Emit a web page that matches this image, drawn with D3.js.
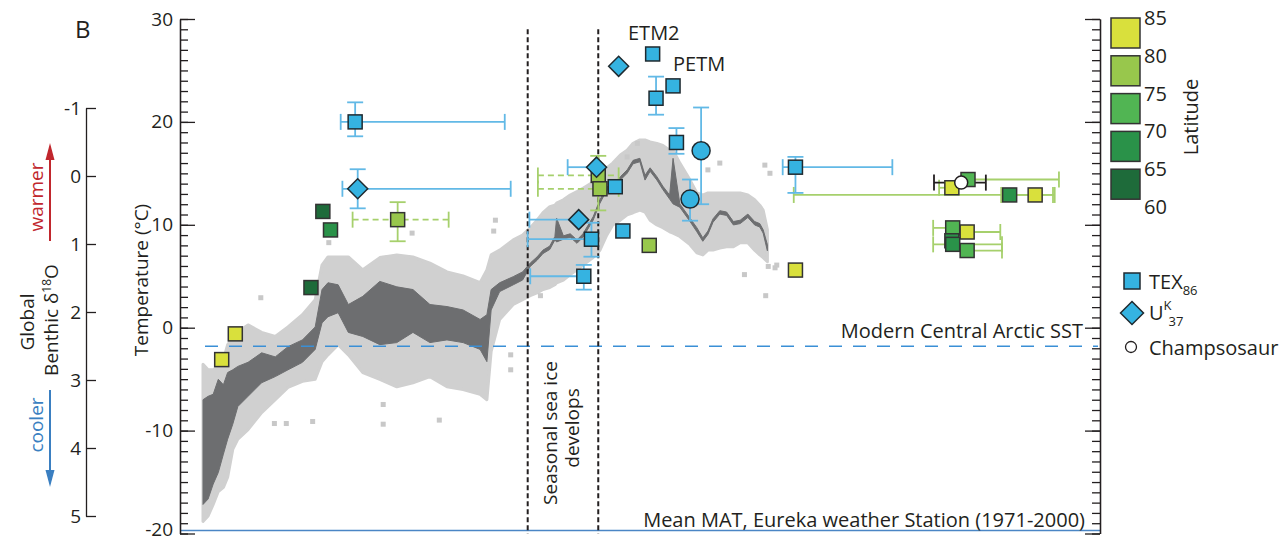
<!DOCTYPE html>
<html>
<head>
<meta charset="utf-8">
<script src="https://cdn.jsdelivr.net/npm/d3@7"></script>
<style>
  body { margin: 0; background: #fff; }
  svg text { font-family: "Open Sans", sans-serif; fill: #231f20; }
</style>
</head>
<body>
<svg id="chart" width="1280" height="541"></svg>
<script>
// benthic d18O compilation (age in Ma, d18O in permil)
const curveAge = [0.0,0.6,1.2,1.8,2.4,2.9,3.5,4.1,5.3,6.9,8.5,10.0,11.7,13.2,14.0,14.7,15.9,17.1,18.8,20.8,22.8,24.7,26.7,28.7,30.6,32.6,33.4,33.9,34.9,36.5,37.6,38.5,39.3,40.0,40.8,41.4,41.6,42.4,43.2,44.0,44.7,45.9,46.7,47.5,48.2,49.1,49.9,50.6,51.4,52.0,52.6,53.4,54.1,54.9,55.3,56.1,57.3,58.1,58.8,59.4,60.0,60.8,61.6,62.4,63.2,64.1,64.9,65.5,65.9,66.4];
const darkTop = [3.29,3.24,3.21,2.99,3.07,2.89,2.85,2.80,2.74,2.60,2.66,2.51,2.41,2.22,1.67,1.57,1.60,1.89,1.77,1.55,1.63,1.67,1.89,1.92,1.97,2.11,2.04,1.67,1.57,1.48,1.41,1.28,1.19,1.09,1.03,0.89,0.62,0.88,0.85,0.94,0.85,0.60,0.35,0.16,0.12,0.01,-0.09,-0.23,-0.26,-0.01,-0.12,0.01,0.15,0.28,-0.26,0.41,0.62,0.76,0.91,0.81,0.63,0.51,0.53,0.67,0.65,0.56,0.67,0.70,0.79,1.01];
const darkBot = [4.83,4.75,4.53,4.36,4.09,3.87,3.65,3.39,3.24,3.04,2.95,2.85,2.74,2.55,2.16,2.07,2.01,2.30,2.36,2.48,2.45,2.30,2.45,2.41,2.45,2.55,2.73,1.97,1.70,1.60,1.53,1.33,1.24,1.14,1.08,0.94,0.97,0.93,0.90,0.99,0.90,0.65,0.40,0.21,0.17,0.06,-0.04,-0.18,-0.21,0.06,-0.07,0.06,0.20,0.34,0.41,0.46,0.67,0.82,0.96,0.86,0.68,0.56,0.58,0.72,0.70,0.61,0.72,0.75,0.84,1.10];
const cloudTop = [2.77,2.85,2.85,2.80,2.70,2.48,2.38,2.29,2.19,2.30,2.36,2.22,2.04,1.82,1.31,1.19,1.19,1.19,1.38,1.20,1.16,1.19,1.28,1.41,1.47,1.57,1.38,1.16,1.09,0.94,0.87,0.76,0.65,0.54,0.45,0.43,0.40,0.35,0.28,0.23,0.18,0.09,-0.01,-0.12,-0.19,-0.31,-0.38,-0.48,-0.53,-0.53,-0.50,-0.48,-0.45,-0.38,-0.38,-0.19,0.06,0.25,0.28,0.25,0.25,0.25,0.25,0.25,0.25,0.28,0.35,0.43,0.50,0.79];
const cloudBot = [5.08,5.00,4.83,4.64,4.58,4.43,4.02,3.87,3.73,3.48,3.29,3.11,3.02,2.99,2.73,2.63,2.48,2.63,2.89,2.99,3.10,3.04,2.95,3.10,3.14,3.21,3.29,2.58,2.11,1.89,1.82,1.76,1.72,1.67,1.64,1.60,1.57,1.53,1.45,1.38,1.31,1.20,1.09,0.87,0.72,0.65,0.57,0.54,0.50,0.53,0.65,0.72,0.76,0.82,0.84,0.89,1.01,1.13,1.16,1.09,1.09,1.06,1.04,1.04,0.98,0.98,1.09,1.16,1.20,1.26];
const strayAge = [34.4,34.2,24.6,14.8,6.8,8.4,9.8,12.9,21.2,21.2,27.8,36.2,36.2,39.7,51.1,49.9,59.4,60.8,63.7,66.2,66.1,66.7,66.5,67.3,67.5];
const strayD18O = [0.65,0.81,0.84,0.98,1.79,3.64,3.64,3.61,3.36,3.65,3.59,2.63,2.85,1.76,-0.48,-0.28,-0.09,-0.19,1.45,1.76,-0.16,-0.04,1.33,1.35,1.31];

// proxy temperatures: [age, temp, ageLo, ageHi, tempLo, tempHi]
const tex86 = [
  [17.9, 20.0, 16.2, 35.5, 18.6, 21.9],
  [52.9, 26.6],
  [55.3, 23.5],
  [53.3, 22.3, null, null, 20.7, 24.4],
  [55.7, 18.0, null, null, 16.9, 19.4],
  [48.5, 13.7],
  [49.4, 9.4],
  [45.7, 8.6, 38.2, null, 6.9, 10.2],
  [44.8, 5.0, 38.5, null, 3.7, 6.1],
  [69.7, 15.6, 68.2, 81.1, 13.1, 16.6]
];
const uk37 = [
  [18.2, 13.5, 16.4, 36.2, 11.6, 15.4],
  [48.9, 25.4],
  [46.3, 15.6, 42.9, null],
  [44.2, 10.5, 38.4, null]
];
const otherTex = [
  [58.6, 17.2, null, null, 12.0, 21.4],
  [57.3, 12.5, null, null, 10.4, 14.4]
];
// [age, temp, latitude, ageLo, ageHi, tempLo, tempHi, dashed]
const latSites = [
  [14.1, 11.3, 62],
  [12.7, 3.9, 62],
  [15.0, 9.5, 67],
  [22.9, 10.5, 77, 17.6, 28.9, 8.4, 12.2, true],
  [3.8, -0.6, 82],
  [2.2, -3.1, 82],
  [46.5, 14.8, 77, 39.4, 48.9, 11.4, 16.7, true],
  [46.7, 13.5, 77, 39.4, 48.9, null, null, true],
  [52.5, 8.0, 77],
  [69.7, 5.6, 82],
  [94.9, 12.9, 67, 69.5, 100.0],
  [97.9, 12.9, 82, 93.9, 100.2],
  [90.0, 14.4, 72, null, 100.7],
  [88.1, 13.6, 82, 86.6, null],
  [88.2, 9.7, 72, 85.9, null],
  [89.9, 9.3, 82, null, 93.8],
  [88.1, 8.45, 67],
  [88.2, 8.1, 67, 85.9, 94.0],
  [89.9, 7.5, 72, null, 94.0]
];
const champsosaur = [[89.2, 14.1, 86.0, 92.1]];

const latBreaks = [65, 70, 75, 80];
const latColors = ["#1e6b3a", "#2a9249", "#51b553", "#98c74c", "#d9e03c"];
const latLabels = [85, 80, 75, 70, 65, 60];
const tempTicks = [-20, -10, 0, 10, 20, 30];
const d18OTicks = [-1, 0, 1, 2, 3, 4, 5];
const arcticSST = -1.8;
const eurekaMAT = -19.7;
const seaIceAges = [38.2, 46.5];

const svg = d3.select("#chart");
const x = d3.scaleLinear().domain([0, 105]).range([203, 1095.5]);
const yT = d3.scaleLinear().domain([-20, 30]).range([533.5, 19]);
const yD = d3.scaleLinear().domain([-1, 5]).range([108, 516]);
const latColor = d3.scaleThreshold().domain(latBreaks).range(latColors);

const ink = "#231f20";
const errBlue = "#62b9e6";
const errGreen = "#a6d06c";
const texBlue = "#35b3e1";

// ---- gray benthic cloud + running band
const band = (lo, hi) =>
  d3.area()
    .x((d, i) => x(curveAge[i]))
    .y0((d, i) => yD(hi[i]))
    .y1((d, i) => yD(lo[i]));

svg.append("path").datum(curveAge)
  .attr("d", band(cloudTop, cloudBot))
  .attr("fill", "#d0d0d0")
  .attr("stroke", "#d0d0d0")
  .attr("stroke-width", 3)
  .attr("stroke-linejoin", "round");

svg.append("g").selectAll("rect")
  .data(strayAge)
  .join("rect")
  .attr("x", (d) => x(d) - 2.5)
  .attr("y", (d, i) => yD(strayD18O[i]) - 2.5)
  .attr("width", 5).attr("height", 5)
  .attr("fill", "#c8c8c8");

svg.append("path").datum(curveAge)
  .attr("d", band(darkTop, darkBot))
  .attr("fill", "#6d6e70")
  .attr("stroke", "#6d6e70")
  .attr("stroke-width", 1);

// ---- reference lines
svg.append("line")
  .attr("x1", 205).attr("x2", 1098)
  .attr("y1", yT(arcticSST)).attr("y2", yT(arcticSST))
  .attr("stroke", "#3a8fd6").attr("stroke-width", 1.5)
  .attr("stroke-dasharray", "13,11");

svg.append("line")
  .attr("x1", 181).attr("x2", 1100)
  .attr("y1", yT(eurekaMAT)).attr("y2", yT(eurekaMAT))
  .attr("stroke", "#4a86c5").attr("stroke-width", 1.5);

svg.append("g").selectAll("line")
  .data(seaIceAges)
  .join("line")
  .attr("x1", (d) => x(d)).attr("x2", (d) => x(d))
  .attr("y1", yT(29)).attr("y2", yT(-20))
  .attr("stroke", ink).attr("stroke-width", 2)
  .attr("stroke-dasharray", "5,3");

// ---- axes
function styleAxis(g) {
  g.attr("font-family", null).attr("font-size", null);
  g.selectAll("path, line").attr("stroke", ink).attr("stroke-width", 1.3);
  g.selectAll("text").attr("fill", ink).style("font-size", "19px");
}

svg.append("g").attr("transform", "translate(180,0)")
  .call(d3.axisLeft(yT).tickValues(d3.range(-20, 31, 1)).tickSizeInner(-8).tickSizeOuter(0).tickFormat(""))
  .call(styleAxis);
svg.append("g").attr("transform", "translate(180,0)")
  .call(d3.axisLeft(yT).tickValues(tempTicks).tickSizeInner(-15).tickSizeOuter(0).tickPadding(7).tickFormat((d) => String(d)))
  .call(styleAxis)
  .call((g) => g.selectAll("text").filter((d) => d === -20).attr("dy", "0.1em"));

svg.append("g").attr("transform", "translate(1100,0)")
  .call(d3.axisRight(yT).tickValues(d3.range(-20, 31, 1)).tickSizeInner(-8).tickSizeOuter(0).tickFormat(""))
  .call(styleAxis);
svg.append("g").attr("transform", "translate(1100,0)")
  .call(d3.axisRight(yT).tickValues(tempTicks).tickSizeInner(-15).tickSizeOuter(0).tickFormat(""))
  .call(styleAxis);

svg.append("g").attr("transform", "translate(86,0)")
  .call(d3.axisLeft(yD).tickValues(d18OTicks).tickSizeInner(-10).tickSizeOuter(0).tickPadding(5).tickFormat((d) => String(d)))
  .call(styleAxis);

// ---- error bars
const cap = 8;
function errorBars(data, color, getDash) {
  const g = svg.append("g").attr("stroke", color).attr("stroke-width", 1.8).attr("fill", "none");
  data.forEach((d) => {
    const [age, t, aLo, aHi, tLo, tHi] = d;
    const dash = getDash ? getDash(d) : null;
    const cx = x(age), cy = yT(t);
    if (aLo != null || aHi != null) {
      const x1 = x(aLo != null ? aLo : age), x2 = x(aHi != null ? aHi : age);
      g.append("line").attr("x1", x1).attr("x2", x2).attr("y1", cy).attr("y2", cy).attr("stroke-dasharray", dash);
      [aLo, aHi].forEach((a) => {
        if (a == null) return;
        g.append("line").attr("x1", x(a)).attr("x2", x(a)).attr("y1", cy - cap).attr("y2", cy + cap);
      });
    }
    if (tLo != null || tHi != null) {
      g.append("line").attr("x1", cx).attr("x2", cx).attr("y1", yT(tLo)).attr("y2", yT(tHi));
      [tLo, tHi].forEach((v) => {
        g.append("line").attr("x1", cx - cap).attr("x2", cx + cap).attr("y1", yT(v)).attr("y2", yT(v));
      });
    }
  });
}

errorBars(latSites.map((d) => [d[0], d[1], d[3], d[4], d[5], d[6], d[7]]), errGreen, (d) => (d[6] ? "6,4" : null));
errorBars(tex86, errBlue);
errorBars(uk37, errBlue);
errorBars(otherTex, errBlue);
errorBars(champsosaur.map((d) => [d[0], d[1], d[2], d[3]]), ink);

// ---- markers
const sq = 14;
svg.append("g").selectAll("rect")
  .data(latSites)
  .join("rect")
  .attr("x", (d) => x(d[0]) - sq / 2)
  .attr("y", (d) => yT(d[1]) - sq / 2)
  .attr("width", sq).attr("height", sq)
  .attr("fill", (d) => latColor(d[2]))
  .attr("stroke", "#333").attr("stroke-width", 1.5);

svg.append("g").selectAll("rect")
  .data(tex86)
  .join("rect")
  .attr("x", (d) => x(d[0]) - sq / 2)
  .attr("y", (d) => yT(d[1]) - sq / 2)
  .attr("width", sq).attr("height", sq)
  .attr("fill", texBlue)
  .attr("stroke", "#1f2a30").attr("stroke-width", 1.5);

const diamond = (cx, cy, r) => `M${cx},${cy - r}L${cx + r},${cy}L${cx},${cy + r}L${cx - r},${cy}Z`;
svg.append("g").selectAll("path")
  .data(uk37)
  .join("path")
  .attr("d", (d) => diamond(x(d[0]), yT(d[1]), 10))
  .attr("fill", texBlue)
  .attr("stroke", "#1f2a30").attr("stroke-width", 1.5);

svg.append("g").selectAll("circle")
  .data(otherTex)
  .join("circle")
  .attr("cx", (d) => x(d[0])).attr("cy", (d) => yT(d[1]))
  .attr("r", 9)
  .attr("fill", texBlue)
  .attr("stroke", "#1f2a30").attr("stroke-width", 1.5);

svg.append("g").selectAll("circle")
  .data(champsosaur)
  .join("circle")
  .attr("cx", (d) => x(d[0])).attr("cy", (d) => yT(d[1]))
  .attr("r", 6.5)
  .attr("fill", "#fff")
  .attr("stroke", ink).attr("stroke-width", 1.5);

// ---- text labels
const txt = (x0, y0, s, size, opts = {}) => {
  const t = svg.append("text").attr("x", x0).attr("y", y0).style("font-size", size + "px").text(s);
  if (opts.anchor) t.attr("text-anchor", opts.anchor);
  if (opts.color) t.style("fill", opts.color);
  return t;
};
const vtxt = (cx, cy, s, size, color) => {
  const t = svg.append("text")
    .attr("transform", `translate(${cx},${cy}) rotate(-90)`)
    .attr("text-anchor", "middle")
    .style("font-size", size + "px")
    .text(s);
  if (color) t.style("fill", color);
  return t;
};

txt(75, 38, "B", 24);
txt(628, 40, "ETM2", 20);
txt(673, 71, "PETM", 20);
txt(1083, 338, "Modern Central Arctic SST", 20, { anchor: "end" });
txt(1085, 527, "Mean MAT, Eureka weather Station (1971-2000)", 20, { anchor: "end" });

vtxt(557, 433, "Seasonal sea ice", 19);
vtxt(579, 428, "develops", 19);
vtxt(148, 280, "Temperature (°C)", 19);
vtxt(34, 322, "Global", 19);
const benthic = vtxt(58, 320, "Benthic δ", 19);
benthic.append("tspan").attr("dy", -7).style("font-size", "12px").text("18");
benthic.append("tspan").attr("dy", 7).text("O");
vtxt(43, 197, "warmer", 19, "#c1272d");
vtxt(43, 425, "cooler", 19, "#3a7fc1");
vtxt(1198, 117, "Latitude", 20);

// warmer / cooler arrows
svg.append("line").attr("x1", 50).attr("x2", 50).attr("y1", 241).attr("y2", 158)
  .attr("stroke", "#c1272d").attr("stroke-width", 2);
svg.append("path").attr("d", "M50,143L45.5,160L54.5,160Z").attr("fill", "#c1272d");
svg.append("line").attr("x1", 50).attr("x2", 50).attr("y1", 390).attr("y2", 472)
  .attr("stroke", "#3a7fc1").attr("stroke-width", 2);
svg.append("path").attr("d", "M50,487L45.5,470L54.5,470Z").attr("fill", "#3a7fc1");

// ---- latitude legend
const legY = d3.scaleLinear().domain([85, 60]).range([18, 207]);
svg.append("g").selectAll("rect")
  .data(d3.range(5))
  .join("rect")
  .attr("x", 1111)
  .attr("y", (i) => legY(latLabels[i]))
  .attr("width", 29).attr("height", 30)
  .attr("fill", (i) => latColors[4 - i])
  .attr("stroke", "#333").attr("stroke-width", 1.5);
svg.append("g").selectAll("text")
  .data(latLabels)
  .join("text")
  .attr("x", 1144)
  .attr("y", (d) => legY(d))
  .attr("dy", "0.35em")
  .style("font-size", "20px")
  .text((d) => d);

// ---- proxy legend
svg.append("rect").attr("x", 1124).attr("y", 273).attr("width", 16).attr("height", 16)
  .attr("fill", texBlue).attr("stroke", "#1f2a30").attr("stroke-width", 1.5);
const tex = txt(1149, 289, "TEX", 20);
tex.append("tspan").attr("dy", 6).style("font-size", "13px").text("86");
svg.append("path").attr("d", diamond(1132, 313, 11.5))
  .attr("fill", texBlue).attr("stroke", "#1f2a30").attr("stroke-width", 1.5);
const uk = txt(1149, 320, "U", 20);
uk.append("tspan").attr("dy", -10).style("font-size", "13px").text("K");
uk.append("tspan").attr("dx", -3).attr("dy", 16).style("font-size", "13px").text("37");
svg.append("circle").attr("cx", 1131).attr("cy", 347).attr("r", 5.5)
  .attr("fill", "#fff").attr("stroke", ink).attr("stroke-width", 1.3);
txt(1149, 355, "Champsosaur", 20);
</script>
</body>
</html>
